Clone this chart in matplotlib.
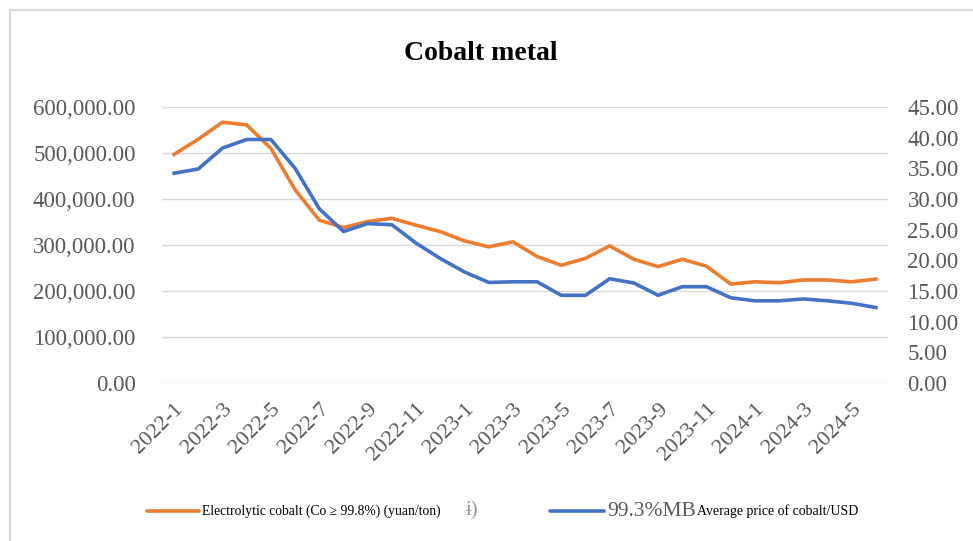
import matplotlib
matplotlib.use("Agg")
import matplotlib.pyplot as plt
from matplotlib.lines import Line2D
from matplotlib.ticker import FuncFormatter

months = [f"{y}-{m}" for y in (2022, 2023, 2024) for m in range(1, 13)][:30]
electrolytic_cobalt = [497000, 530000, 567000, 561000, 510000, 420000, 354000, 338000, 351000, 358000,
                       343000, 329000, 309000, 296000, 307000, 275000, 256000, 271000, 298000, 269000,
                       253000, 269000, 254000, 215000, 220000, 218000, 224000, 224000, 220000, 226000]
mb_cobalt_usd = [34.2, 34.9, 38.3, 39.7, 39.7, 35.0, 28.4, 24.7, 26.0, 25.8,
                 22.8, 20.3, 18.1, 16.4, 16.5, 16.5, 14.3, 14.3, 17.0, 16.3,
                 14.3, 15.7, 15.7, 13.9, 13.4, 13.4, 13.7, 13.4, 13.0, 12.3]
left_ticks = [0, 100000, 200000, 300000, 400000, 500000, 600000]
right_ticks = [0, 5, 10, 15, 20, 25, 30, 35, 40, 45]
title = "Cobalt metal"
legend_orange = "Electrolytic cobalt (Co \u2265 99.8%) (yuan/ton)"
legend_blue_big = "99.3%MB"
legend_blue_small = "Average price of cobalt/USD"

ORANGE = "#ED7D31"
BLUE = "#4472C4"
GREY = "#595959"
GRID = "#D9D9D9"
SERIF = ["Liberation Serif", "DejaVu Serif"]
plt.rcParams["font.family"] = SERIF

W, H = 973, 541
fig = plt.figure(figsize=(W / 100, H / 100), dpi=100)
ax = fig.add_axes([162 / W, 1 - 383 / H, (888 - 162) / W, (383 - 107) / H])
ax2 = ax.twinx()

x = list(range(len(months)))
ax.plot(x, electrolytic_cobalt, color=ORANGE, lw=2.6, solid_joinstyle="round", zorder=3)
ax2.plot(x, mb_cobalt_usd, color=BLUE, lw=2.6, solid_joinstyle="round", zorder=3)

ax.set_xlim(-0.5, len(months) - 0.5)
ax.set_ylim(0, 600000)
ax2.set_ylim(0, 45)
ax.set_yticks(left_ticks)
ax2.set_yticks(right_ticks)
ax.yaxis.set_major_formatter(FuncFormatter(lambda v, p: f"{v:,.2f}"))
ax2.yaxis.set_major_formatter(FuncFormatter(lambda v, p: f"{v:.2f}"))
ax.grid(axis="y", color=GRID, lw=1.0)
ax.set_axisbelow(True)
for a in (ax, ax2):
    for s in a.spines.values():
        s.set_visible(False)
ax.tick_params(axis="y", length=0, pad=19, labelsize=16.5, labelcolor=GREY)
ax2.tick_params(axis="y", length=0, pad=14, labelsize=16.5, labelcolor=GREY)
ax.set_xticks(x[::2])
ax.set_xticklabels(months[::2], rotation=45, ha="right", va="top", rotation_mode="anchor")
ax.tick_params(axis="x", length=0, pad=12, labelsize=16, labelcolor=GREY)

fig.text(481 / W, 1 - 53 / H, title, ha="center", va="center", fontsize=20, fontweight="bold", color="black")

# frame
fig.add_artist(Line2D([10 / W, 1.0], [1 - 10 / H, 1 - 10 / H], transform=fig.transFigure, color=GRID, lw=1.6))
fig.add_artist(Line2D([10 / W, 10 / W], [0.0, 1 - 10 / H], transform=fig.transFigure, color=GRID, lw=1.6))

# legend
ly = 1 - 511 / H
fig.add_artist(Line2D([147 / W, 199 / W], [ly, ly], transform=fig.transFigure, color=ORANGE, lw=2.6, solid_capstyle="round"))
fig.text(202 / W, ly, legend_orange, ha="left", va="center", fontsize=9.8, color="black")
fig.text(466 / W, ly, "\u0268)", ha="left", va="center", fontsize=15, color="#9a9a9a")
fig.add_artist(Line2D([550 / W, 604 / W], [ly, ly], transform=fig.transFigure, color=BLUE, lw=2.6, solid_capstyle="round"))
fig.text(607 / W, ly, legend_blue_big, ha="left", va="center", fontsize=15.5, color=GREY)
fig.text(697 / W, ly, legend_blue_small, ha="left", va="center", fontsize=10, color="black")

fig.savefig("out.png", dpi=100)
